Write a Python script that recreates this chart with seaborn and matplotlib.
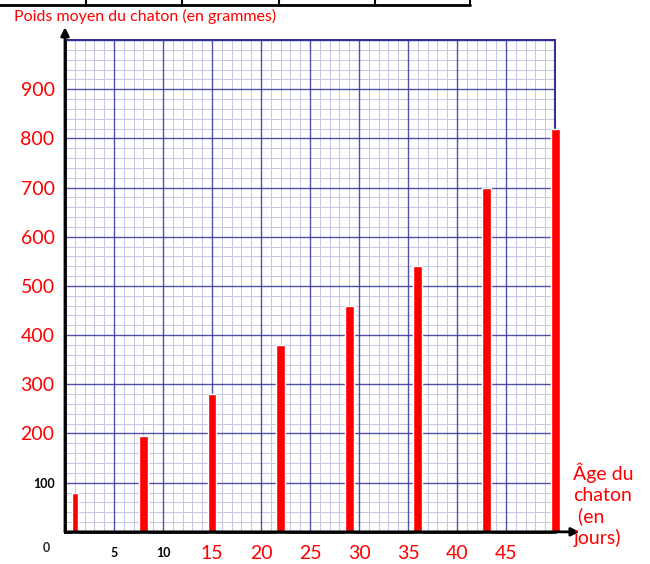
import numpy as np
import pandas as pd
import matplotlib
matplotlib.use("Agg")
import matplotlib.pyplot as plt
from matplotlib.lines import Line2D
import seaborn as sns

# age of the kitten (days) and mean weight (grams)
days = [1, 8, 15, 22, 29, 36, 43, 50]
weights = [80, 195, 280, 380, 460, 540, 700, 820]

yticks = [100, 200, 300, 400, 500, 600, 700, 800, 900]
xticks = [5, 10, 15, 20, 25, 30, 35, 40, 45, 50]
xlabels = ["5", "10", "15", "20", "25", "30", "35", "40", "45", ""]

red = "#ff0000"
navy = "#33339a"

sns.set_style("white")
plt.rcParams["font.family"] = ["Lato", "DejaVu Sans"]

fig = plt.figure(figsize=(6.5, 5.64), dpi=100)
ax = fig.add_axes([0.1, 0.057, 0.754, 0.872])

df = pd.DataFrame({"jour": days, "poids": weights})
sns.barplot(data=df.iloc[1:], x="jour", y="poids", native_scale=True,
            width=0.9 / 7, color=red, saturation=1, ax=ax, zorder=3)
sns.barplot(data=df.iloc[:1], x="jour", y="poids", native_scale=True,
            width=0.6, color=red, saturation=1, ax=ax, zorder=3)
for p in ax.patches:
    p.set_clip_on(False)

ax.set_xlim(0, 50)
ax.set_ylim(0, 1000)
ax.set_xlabel("")
ax.set_ylabel("")

# graph paper grid
ax.set_xticks(np.arange(0, 51, 1), minor=True)
ax.set_yticks(np.arange(0, 1001, 20), minor=True)
ax.grid(which="minor", color="#c4c4e4", lw=0.7, zorder=0)
for v in np.arange(5, 51, 5):
    ax.axvline(v, color=navy, lw=1.0, alpha=0.85, zorder=1)
for v in np.arange(100, 1001, 100):
    ax.axhline(v, color=navy, lw=1.0, alpha=0.85, zorder=1)
ax.set_axisbelow(True)

ax.set_xticks(xticks)
ax.set_xticklabels(xlabels)
ax.set_yticks(yticks)
ax.set_yticklabels([str(v) for v in yticks])
ax.tick_params(axis="both", which="major", direction="inout", length=11,
               width=2, color="black", pad=2)
ax.tick_params(axis="both", which="minor", length=0)

for lab in ax.get_yticklabels():
    if lab.get_text() == "100":
        lab.set_color("black"); lab.set_fontsize(9); lab.set_fontweight("bold")
    else:
        lab.set_color(red); lab.set_fontsize(14)
for lab in ax.get_xticklabels():
    if lab.get_text() in ("5", "10"):
        lab.set_color("black"); lab.set_fontsize(9); lab.set_fontweight("bold")
    else:
        lab.set_color(red); lab.set_fontsize(14)
    lab.set_va("center")
ax.tick_params(axis="x", pad=10)

for s in ["top", "right"]:
    ax.spines[s].set_color(navy)
    ax.spines[s].set_linewidth(1.5)
for s in ["left", "bottom"]:
    ax.spines[s].set_color("black")
    ax.spines[s].set_linewidth(2)

# axis arrows
ax.annotate("", xy=(1.05, 0), xytext=(0, 0), xycoords="axes fraction",
            arrowprops=dict(arrowstyle="-|>", color="black", lw=2,
                            mutation_scale=12, shrinkA=0, shrinkB=0))
ax.annotate("", xy=(0, 1.026), xytext=(0, 0), xycoords="axes fraction",
            arrowprops=dict(arrowstyle="-|>", color="black", lw=2,
                            mutation_scale=12, shrinkA=0, shrinkB=0))

ax.text(-0.037, -0.033, "0", transform=ax.transAxes, fontsize=9,
        fontweight="bold", ha="center", va="center")

fig.text(0.022, 0.97, "Poids moyen du chaton (en grammes)", color=red,
         fontsize=11.5, ha="left", va="center")
fig.text(0.882, 0.105, "Âge du\nchaton\n (en\njours)", color=red,
         fontsize=14, ha="left", va="center", linespacing=1.25)

# fragment of the table above the graph
fig.add_artist(Line2D([0, 0.723], [0.991, 0.991], color="black", lw=2))
for xv in [0.132, 0.28, 0.429, 0.577, 0.723]:
    fig.add_artist(Line2D([xv, xv], [0.991, 1.0], color="black", lw=1.5))

fig.savefig("out.png", dpi=100)
